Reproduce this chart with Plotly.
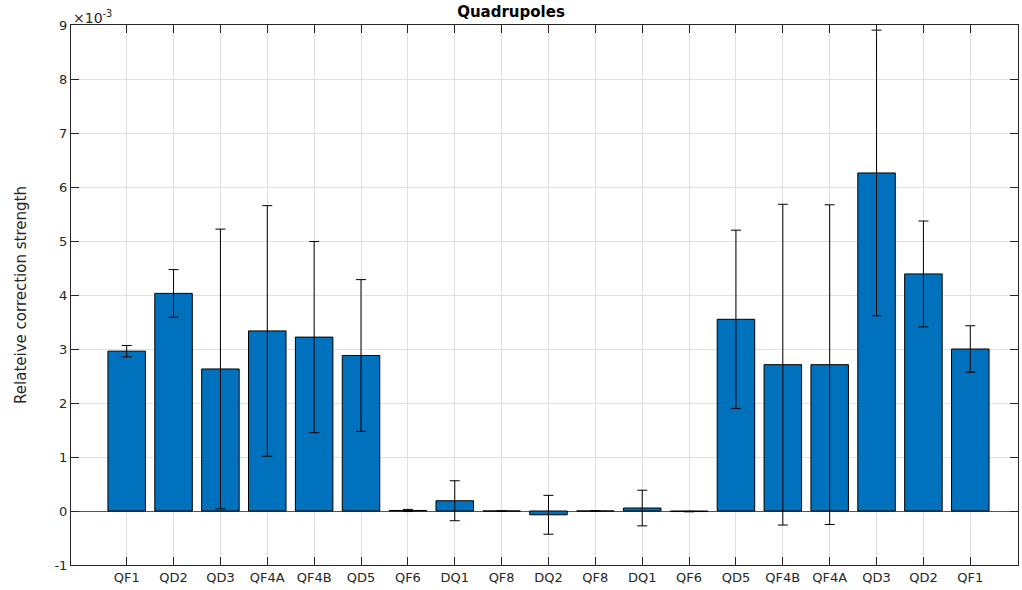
import plotly.graph_objects as go

categories = ["QF1", "QD2", "QD3", "QF4A", "QF4B", "QD5", "QF6", "DQ1", "QF8", "DQ2",
              "QF8", "DQ1", "QF6", "QD5", "QF4B", "QF4A", "QD3", "QD2", "QF1"]
# values in units of 1e-3
values = [2.96, 4.03, 2.63, 3.335, 3.22, 2.88, 0.01, 0.19, 0.0, -0.07,
          0.0, 0.055, -0.01, 3.55, 2.71, 2.71, 6.26, 4.39, 3.0]
errors = [0.105, 0.44, 2.59, 2.32, 1.77, 1.405, 0.02, 0.37, None, 0.36,
          None, 0.33, 0.005, 1.65, 2.97, 2.96, 2.645, 0.98, 0.43]
yticks = [-1, 0, 1, 2, 3, 4, 5, 6, 7, 8, 9]

positions = list(range(1, len(categories) + 1))

axis_col = "#262626"
grid_col = "#e0e0e0"
font_family = "DejaVu Sans"

fig = go.Figure()
fig.add_trace(go.Bar(
    x=positions, y=values, width=0.8,
    marker=dict(color="#0072BD", line=dict(color="black", width=1)),
    error_y=dict(type="data", array=errors, visible=True, color="black",
                 thickness=1, width=5),
    showlegend=False,
))

fig.update_layout(
    width=1022, height=590,
    margin=dict(l=71, r=4, t=25, b=25),
    paper_bgcolor="white", plot_bgcolor="white",
    font=dict(family=font_family, size=13, color=axis_col),
    title=dict(text="<b>Quadrupoles</b>", x=0.5, xanchor="center",
               y=1 - 12 / 590, yanchor="middle",
               font=dict(family=font_family, size=15, color="black")),
    xaxis=dict(range=[-0.188, 20.018], tickmode="array", tickvals=positions,
               ticktext=categories, ticks="inside", ticklen=8, tickcolor=axis_col,
               showline=True, linecolor=axis_col, linewidth=1, mirror="ticks",
               showgrid=True, gridcolor=grid_col, gridwidth=1, zeroline=False,
               automargin=False, tickfont=dict(size=13, color=axis_col)),
    yaxis=dict(range=[-1, 9], tickmode="array", tickvals=yticks,
               ticktext=[str(v) for v in yticks], ticks="inside", ticklen=8,
               tickcolor=axis_col, showline=True, linecolor=axis_col, linewidth=1,
               mirror="ticks", showgrid=True, gridcolor=grid_col, gridwidth=1,
               zeroline=True, zerolinecolor="#555555", zerolinewidth=1,
               automargin=False, tickfont=dict(size=13, color=axis_col),
               title=dict(text="Relateive correction strength", standoff=24,
                          font=dict(family=font_family, size=15, color=axis_col))),
    bargap=0.2,
)

fig.add_annotation(text="×10<sup>-3</sup>", xref="paper", yref="paper",
                   x=0, y=1, xanchor="left", yanchor="bottom", showarrow=False,
                   font=dict(family=font_family, size=14, color=axis_col),
                   xshift=0, yshift=-3)

fig.write_html("out.html",
               config={"displayModeBar": False},
               post_script="document.body.style.margin='0';document.body.style.overflow='hidden';")
